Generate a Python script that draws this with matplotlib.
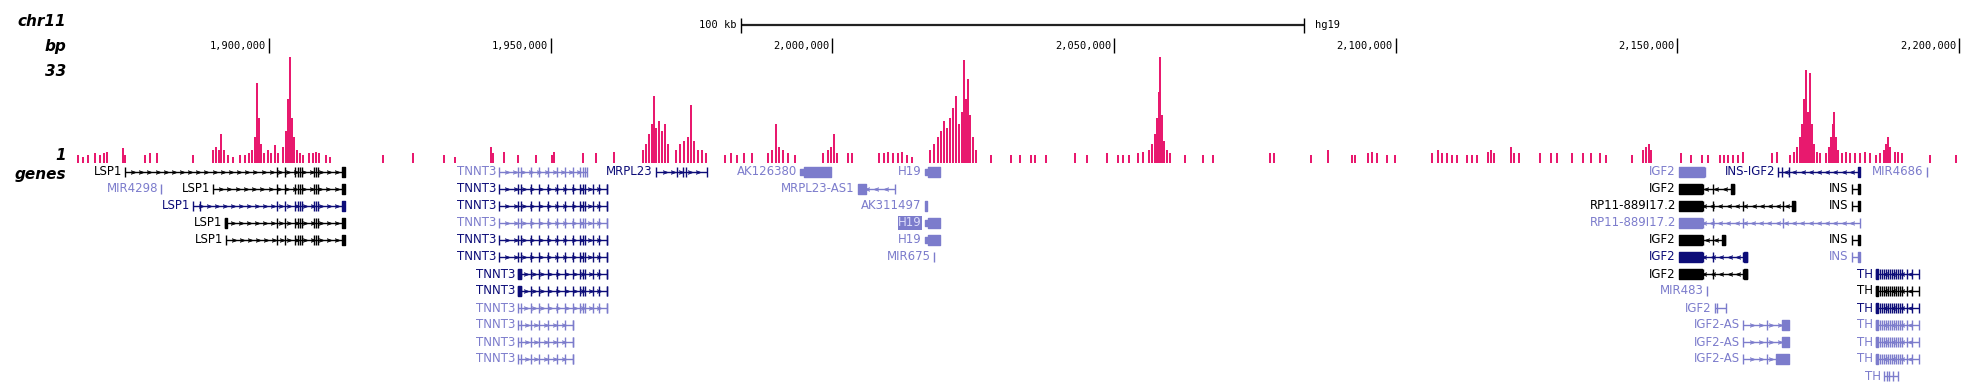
import numpy as np, matplotlib
matplotlib.use("Agg"); import matplotlib.pyplot as plt

W, H = 1967, 386
KB_LEFT, KB_RIGHT = 1852.25, 2201.42          # chr11 window shown, in kb

# ---------------- ruler ----------------
ruler_ticks = [1900, 1950, 2000, 2050, 2100, 2150, 2200]
ruler_labels = ["1,900,000", "1,950,000", "2,000,000", "2,050,000",
                "2,100,000", "2,150,000", "2,200,000"]
scale_start, scale_len = 1983.8, 100          # "100 kb" bar

# ---------------- signal track (kb, value; track max 33) ----------------
sig_kb = [1866.1,1867.0,1867.9,1869.1,1870.0,1870.7,1871.2,1874.1,1874.4,1878.0,1878.9,1880.1,1886.5,
          1890.1,1890.6,1891.1,1891.5,1892.0,1892.7,1893.6,1894.9,1895.7,1896.4,1897.0,1897.5,1897.9,
          1898.2,1898.6,1899.1,1899.8,1900.4,1901.1,1901.6,
          1902.5,1903.0,1903.4,1903.7,1904.1,1904.4,1905.0,1905.5,1906.0,1907.1,1907.8,1908.3,1908.9,
          1910.1,1910.8,1920.2,
          1925.6,1931.1,1933.0,1939.4,1939.8,1941.7,1944.2,1947.4,1950.2,1950.6,1955.7,1958.0,1961.2,
          1966.4,1966.9,1967.5,1968.0,1968.3,1968.7,1969.2,1969.8,1970.3,1970.8,
          1972.2,1972.9,1973.7,1974.4,1974.9,1975.4,1976.1,1976.9,1977.6,
          1980.9,1982.0,1983.1,1984.3,1985.7,1988.6,1989.3,1990.0,1990.5,1991.2,1992.1,1993.4,
          1998.3,1999.2,1999.8,2000.3,2000.8,2002.8,2003.5,
          2008.3,2009.2,2009.9,2010.8,2011.6,2012.4,2013.2,2014.1,
          2017.3,2018.0,2018.7,2019.3,2019.8,2020.3,2020.9,2021.4,2021.9,2022.5,2023.0,2023.4,2023.7,
          2024.1,2024.4,2025.0,2025.5,
          2028.2,2031.7,2033.3,2035.3,2036.0,2037.9,2043.1,2045.2,2048.7,2050.7,2051.6,2052.7,2054.2,2055.1,
          2056.2,2056.7,2057.2,2057.6,2058.0,2058.2,2058.5,2058.9,2059.4,2059.9,
          2062.6,2065.8,2067.6,2077.7,2078.4,2085.0,2088.0,2092.2,2092.8,2095.1,2095.8,2096.7,2098.4,2099.9,
          2106.4,2107.5,2108.2,2109.1,2110.0,2110.9,2112.6,2113.5,2114.4,2116.4,2116.9,2117.4,2120.5,2121.0,2121.9,
          2125.6,2127.6,2128.6,2131.3,2133.2,2134.7,2136.3,2137.3,2141.9,2143.9,2144.4,2145.0,2145.3,
          2150.6,2152.4,2154.4,2155.4,2157.6,2158.3,2159.0,2159.9,2160.8,2161.6,2166.8,2167.7,2170.0,
          2170.7,2171.3,2171.8,2172.1,2172.5,2172.8,2173.2,2173.6,2173.9,2174.3,2174.8,2175.3,
          2176.4,2176.9,2177.3,2177.6,2177.8,2178.2,2178.5,
          2179.2,2179.9,2180.6,2181.5,2182.4,2183.3,2184.2,2185.2,2186.0,2186.7,2187.0,2187.4,2187.7,
          2188.6,2189.2,2189.9,2194.8,2199.5]
sig_val = [2.5,2,2.5,3,2.5,3,3.5,4.7,2.5,2.5,3,3,2.5,
           4,5,4,9,4,2.5,2,2.5,2.5,3,4,8,25,
           14,6,3,4,3,5.5,3,
           5,10,20,33,14,8,4,3,2.5,3,3,3.5,3,
           2.5,2,2.5,
           3,2.5,2,5,3,3.5,2.5,2.5,2.5,3.5,3,3,3.5,
           4,6,9,12,21,11,13,10,12,6,
           4,6,7,8,18,7,4,4,3,
           2.5,3,2.5,3,3,3,4,12,5,4,3,2.5,
           3,4,5,9,3,3,3,
           3,3,3.5,3,3,3.5,2.5,2,
           4,6,8,10,13,11,14,17,21,12,16,32,20,
           26,15,8,4,
           2.5,2.5,2.5,2.5,2.5,2.5,3,2.5,3,2.5,2.5,2.5,3,3.5,
           4,6,9,14,22,34,15,7,4,3,
           2.5,2.5,2.5,3,3,2.5,4,2.5,2.5,3,3.5,3,2.5,2.5,
           3,4,3,3,2.5,2.5,2.5,2.5,2.5,3.5,4,3,5,3,3,
           3,3,3,3,3,3,3,2.5,2.5,4,5,6,4,
           3,2.5,2.5,2.5,2.5,2.5,2.5,2.5,2.5,3.5,3,3.5,2.5,
           3.5,5,8,12,20,29,16,28,12,6,3.5,3,
           3,5,8,12,16,8,4,
           3,3.5,3,3,3,3.5,3,2.5,3,4,6,8,5,
           3.5,3.5,3,2.5,2.5]

# ---------------- gene models (kb) ----------------
LSP1_ROWS  = [0, 1, 2, 3, 4]
LSP1_START = [1874.44, 1890.06, 1886.51, 1892.19, 1892.37]
LSP1_COLOR = ["k", "k", "navy", "k", "k"]
LSP1_END   = 1913.49
LSP1_EXONS = [1901.42, 1902.84, 1904.62, 1905.15, 1905.50, 1905.86, 1907.99, 1908.35, 1908.70]

TNNT3_ROWS  = list(range(12))
TNNT3_START = [1940.83]*6 + [1944.20]*6
TNNT3_END   = [1956.45] + [1960.01]*8 + [1953.97]*3
TNNT3_COLOR = ["light", "navy", "navy", "light", "navy", "navy",
               "navy", "navy", "light", "light", "light", "light"]
TNNT3_EXONS = [1940.83, 1944.20, 1944.74, 1946.51, 1947.93, 1949.53, 1951.13, 1952.55,
               1953.97, 1955.21, 1955.75, 1956.10, 1957.52, 1958.59, 1960.01]

IGF2_ROWS  = [1, 2, 3, 4, 5, 6]
IGF2_NAME  = ["IGF2", "RP11-889I17.2", "RP11-889I17.2", "IGF2", "IGF2", "IGF2"]
IGF2_END   = [2160.05, 2170.88, 2182.42, 2158.45, 2162.35, 2162.35]
IGF2_COLOR = ["k", "k", "light", "k", "navy", "k"]
IGF2_UTR   = (2150.29, 2154.37)
IGF2_EXONS = [2154.55, 2156.32, 2161.64, 2168.75]

INS_ROWS  = [1, 2, 4, 5]
INS_COLOR = ["k", "k", "k", "light"]
INS_SPAN  = (2181.00, 2182.42)

TH_ROWS  = [6, 7, 8, 9, 10, 11]
TH_COLOR = ["navy", "k", "navy", "light", "light", "light"]
TH_SPAN  = (2185.26, 2192.90)
TH_EXONS = [2185.26, 2185.45, 2185.97, 2186.33, 2186.68, 2187.04, 2187.39, 2187.75, 2188.10,
            2188.46, 2188.81, 2189.17, 2189.52, 2189.88, 2190.77, 2191.66, 2192.90]

IGF2AS_ROWS  = [9, 10, 11]
IGF2AS_SPAN  = (2161.64, 2169.82)
IGF2AS_BLOCK = [2168.57, 2168.57, 2167.51]

PAL = {"k": "#000000", "navy": "#0C0C78", "light": "#7C7CCC"}
GENE_FONT = ["Liberation Sans Narrow", "DejaVu Sans"]

fig = plt.figure(figsize=(W/100, H/100), dpi=100)

# header (ruler) axes in pixel y
hdr = fig.add_axes([0, 0, 1, 1]); hdr.set_xlim(KB_LEFT, KB_RIGHT); hdr.set_ylim(H, 0); hdr.axis("off")
hdr.vlines(ruler_ticks, 38, 53, color="k", lw=1)
for t, lab in zip(ruler_ticks, ruler_labels):
    hdr.text(t-0.5, 46, lab, ha="right", va="center", fontsize=7.5, family="DejaVu Sans Mono")
hdr.hlines(25, scale_start, scale_start+scale_len, color="#222222", lw=1.6)
hdr.vlines([scale_start, scale_start+scale_len], 18, 33, color="k", lw=1)
hdr.text(scale_start-0.8, 25, "100 kb", ha="right", va="center", fontsize=7.5, family="DejaVu Sans Mono")
hdr.text(scale_start+scale_len+1.8, 25, "hg19", ha="left", va="center", fontsize=7.5, family="DejaVu Sans Mono")

for y, s in [(22, "chr11"), (46, "bp"), (71, "33"), (156, "1"), (174, "genes")]:
    fig.text(66/W, 1-y/H, s, ha="right", va="center", fontsize=11, fontweight="bold", style="italic")

# signal track: baseline at px 163, value 33 at px 57
sig = fig.add_axes([0, (H-163)/H, 1, 106/H]); sig.axis("off")
sig.set_xlim(KB_LEFT, KB_RIGHT); sig.set_ylim(0, 33)
sig.bar(sig_kb, sig_val, width=0.34, color="#E8196E", align="center")

# gene track: row 0 at px 172, 17 px per row
ga = fig.add_axes([0, 0, 1, 1]); ga.axis("off")
ga.set_xlim(KB_LEFT, KB_RIGHT); ga.set_ylim((H-172)/17, -172/17)

def gene(row, start, end, color, strand, label, exons=(), blocks=(), utr=(), box=False):
    c = PAL[color]
    ga.hlines(row, start, end, color=c, lw=1)
    n = int((end-start)/1.4)
    if n > 1:
        xs = np.linspace(start, end, n+1)[1:-1]
        ga.plot(xs, [row]*len(xs), ls="none", marker="$>$" if strand == "+" else "$<$",
                ms=3.2, color=c, mew=0.3)
    ga.vlines([x for x in exons if start-0.01 <= x <= end+0.01], row-0.3, row+0.3, color=c, lw=1.0)
    if blocks:
        ga.broken_barh([(s, e-s) for s, e in blocks], (row-0.3, 0.6), color=c)
    if utr:
        ga.broken_barh([(s, e-s) for s, e in utr], (row-0.17, 0.34), color=c)
    if label:
        kw = dict(ha="right", va="center", fontsize=8.5, family=GENE_FONT, color=c)
        if box:
            kw.update(color="#DCDCFA", bbox=dict(boxstyle="square,pad=0.05", fc=c, ec="none"))
        ga.text(start-0.55, row, label, **kw)

for r, s, c in zip(LSP1_ROWS, LSP1_START, LSP1_COLOR):
    extra = [1887.75] if r == 2 else []
    blk = [(s, s+0.4)] if r == 3 else []
    gene(r, s, LSP1_END, c, "+", "LSP1", exons=[s]+extra+LSP1_EXONS, blocks=blk+[(1912.9, LSP1_END)])
gene(1, 1880.83, 1880.83, "light", "+", "MIR4298", exons=[1880.83])

for r, s, e, c in zip(TNNT3_ROWS, TNNT3_START, TNNT3_END, TNNT3_COLOR):
    blk = [(s, s+0.45)] if r in (6, 7) else []
    gene(r, s, e, c, "+", "TNNT3", exons=TNNT3_EXONS + [e], blocks=blk)

gene(0, 1968.70, 1977.75, "navy", "+", "MRPL23", exons=[1968.70, 1972.43, 1973.49, 1974.03, 1977.75])
gene(0, 1994.3, 1999.76, "light", "-", "AK126380", blocks=[(1994.97, 1999.76)], utr=[(1994.3, 1994.97)])
gene(1, 2004.55, 2011.12, "light", "-", "MRPL23-AS1", exons=[2011.12], blocks=[(2004.55, 2005.97)])
gene(2, 2016.44, 2016.80, "light", "-", "AK311497", blocks=[(2016.44, 2016.80)])
for r in (0, 3, 4):
    gene(r, 2016.44, 2019.11, "light", "-", "H19", blocks=[(2016.95, 2019.11)],
         utr=[(2016.44, 2016.95)], box=(r == 3))
gene(5, 2018.04, 2018.04, "light", "-", "MIR675", exons=[2018.04])

gene(0, 2150.29, 2154.90, "light", "-", "IGF2", blocks=[(2150.29, 2154.70)], exons=[2154.85])
for r, nm, e, c in zip(IGF2_ROWS, IGF2_NAME, IGF2_END, IGF2_COLOR):
    gene(r, IGF2_UTR[0], e, c, "-", nm, exons=IGF2_EXONS + [e],
         blocks=[IGF2_UTR, (e-0.5, e)] if c != "light" else [IGF2_UTR])
gene(0, 2167.87, 2182.42, "navy", "-", "INS-IGF2", exons=[2167.87, 2168.57, 2169.82],
     blocks=[(2182.05, 2182.42)])
gene(0, 2194.31, 2194.31, "light", "-", "MIR4686", exons=[2194.31])
for r, c in zip(INS_ROWS, INS_COLOR):
    gene(r, INS_SPAN[0], INS_SPAN[1], c, "-", "INS", exons=[INS_SPAN[0]], blocks=[(2182.1, INS_SPAN[1])])
gene(7, 2155.26, 2155.26, "light", "-", "MIR483", exons=[2155.26])
gene(8, 2156.68, 2158.63, "light", "-", "IGF2", exons=[2156.68, 2157.0, 2158.63])
for r, b in zip(IGF2AS_ROWS, IGF2AS_BLOCK):
    gene(r, IGF2AS_SPAN[0], IGF2AS_SPAN[1], "light", "+", "IGF2-AS",
         exons=[IGF2AS_SPAN[0], 2165.9], blocks=[(b, IGF2AS_SPAN[1])])
for r, c in zip(TH_ROWS, TH_COLOR):
    gene(r, TH_SPAN[0], TH_SPAN[1], c, "-", "TH", exons=TH_EXONS, blocks=[(TH_SPAN[0], 2185.6)])
gene(12, 2186.68, 2189.17, "light", "-", "TH", exons=[2186.68, 2187.2, 2187.6, 2188.3, 2189.17])

fig.savefig("out.png", dpi=100)
